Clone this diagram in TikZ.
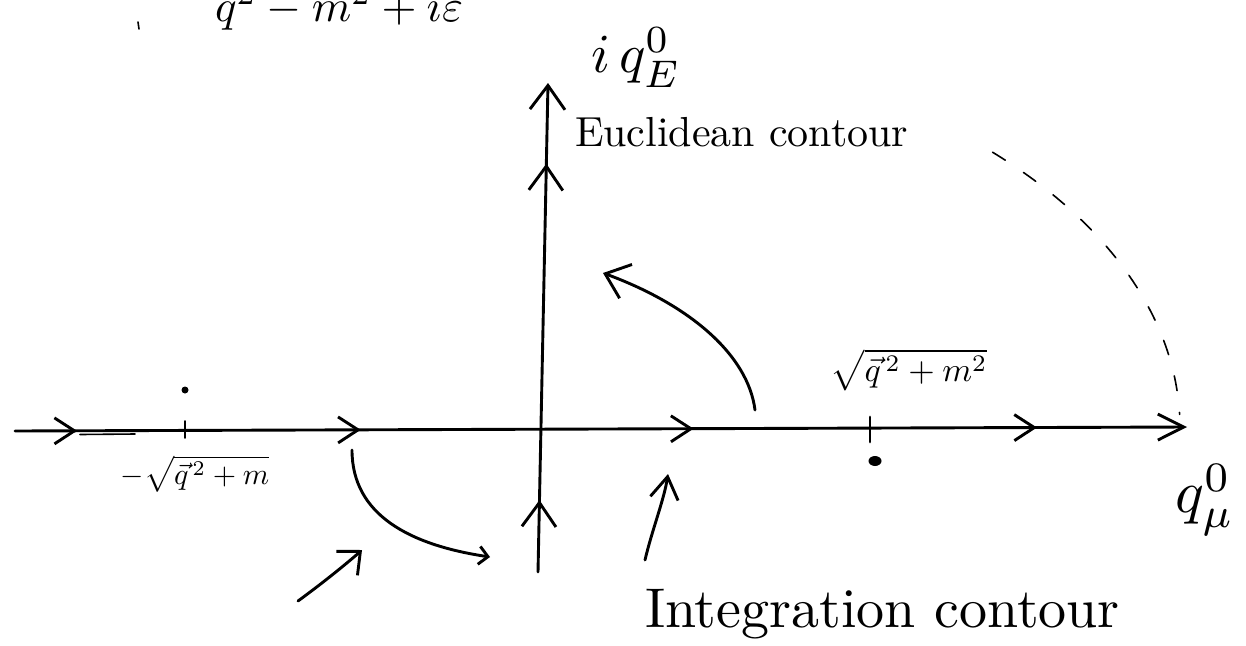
\documentclass[tikz,border=0pt]{standalone}
\usepackage{graphicx}
\usetikzlibrary{arrows.meta,decorations.markings,calc}
\tikzset{
  HChev/.tip={Straight Barb[length=20pt,width=26pt]},
  VChev/.tip={Straight Barb[length=24pt,width=34pt]}}
\begin{document}
\begin{tikzpicture}[x=1pt,y=-1pt,line width=2.9pt,line cap=round,line join=round,
  lbl/.style={inner sep=0pt,outer sep=0pt},
  dashline/.style={line width=1.6pt,dash pattern=on 15pt off 22pt},
  thin stroke/.style={line width=1.6pt}]
\useasboundingbox (0,0) rectangle (1246,645);

% top partial formula (cut by page edge)
\node[lbl,anchor=base west] (topf) at (215,21) {\scalebox{4.5}{$q^2-m^2+i\varepsilon$}};
\draw[thin stroke] (138,22) -- (139,29);

% horizontal axis
\coordinate (hL) at (15,431);
\coordinate (hR) at (1187,427);
\draw[-{Straight Barb[length=26pt,width=26pt]},
  postaction={decorate},
  decoration={markings,
    mark=at position 0.053 with {\arrow{HChev}},
    mark=at position 0.295 with {\arrow{HChev}},
    mark=at position 0.579 with {\arrow{HChev}},
    mark=at position 0.872 with {\arrow{HChev}}}]
  (hL) -- (hR);
\coordinate (dbA) at (80,434.5);
\coordinate (dbB) at (135,434);
\draw[thin stroke] (dbA) -- (dbB);

% vertical axis
\coordinate (vB) at (538,572);
\coordinate (vT) at (548,83);
\draw[-{Straight Barb[length=24pt,width=35pt]},
  postaction={decorate},
  decoration={markings,
    mark=at position 0.147 with {\arrow{VChev}},
    mark=at position 0.835 with {\arrow{VChev}}}]
  (vB) -- (vT);

% poles
\coordinate (pLt) at (185,421);
\coordinate (pLb) at (185,438);
\draw[thin stroke] (pLt) -- (pLb);
\fill (185,390) circle[radius=3.5];
\coordinate (pRt) at (870,417);
\coordinate (pRb) at (870,442);
\draw (pRt) -- (pRb);
\fill (875,461) ellipse[x radius=6.5,y radius=5];

% labels
\node[lbl] (lblL) at (195,474) {\scalebox{3.0}{$-\sqrt{\vec{q}^{\,2}+m}$}};
\node[lbl] (lblR) at (909,370) {\scalebox{3.4}{$\sqrt{\vec{q}^{\,2}+m^2}$}};
\node[lbl] (lblE) at (636,58) {\scalebox{5.5}{$i\,q^{0}_{E}$}};
\node[lbl] (lblq) at (1205,500) {\scalebox{6.0}{$q^{0}_{\mu}$}};
\node[lbl,anchor=base west] (txtE) at (575,146) {\scalebox{4.2}{Euclidean contour}};
\node[lbl,anchor=base west] (txtI) at (645,627) {\scalebox{5.6}{Integration contour}};

% dashed quarter arc at infinity
\coordinate (O) at (540,428);
\draw[dashline] ($(O)+(-45:640 and 390)$) arc[start angle=-45,end angle=-2,x radius=640,y radius=390];

% rotation arrows
\coordinate (u1) at (755,410);
\coordinate (u2) at (603,273);
\draw[-{Straight Barb[length=22pt,width=36pt]}] (u1) .. controls (748,355) and (690,305) .. (u2);
\coordinate (l1) at (352,450);
\coordinate (l2) at (490,557);
\draw[-{Straight Barb[length=9pt,width=18pt]}] (l1) .. controls (352,515) and (410,545) .. (l2);

% pointer arrows
\coordinate (b1) at (298,601);
\coordinate (b2) at (362,550);
\draw[-{Straight Barb[length=18pt,width=32pt]}] (b1) .. controls (320,585) and (345,565) .. (b2);
\coordinate (i1) at (645,560);
\coordinate (i2) at (668,474);
\draw[-{Straight Barb[length=22pt,width=28pt]}] (i1) .. controls (652,530) and (664,500) .. (i2);
\end{tikzpicture}
\end{document}
